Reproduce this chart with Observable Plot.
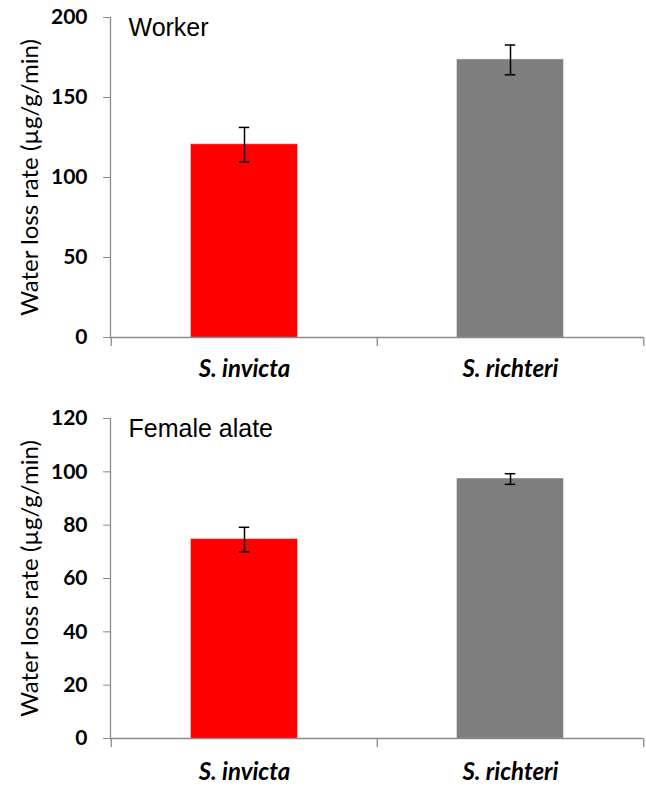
<!DOCTYPE html>
<html>
<head>
<meta charset="utf-8">
<script src="https://cdn.jsdelivr.net/npm/d3@7"></script>
<script src="https://cdn.jsdelivr.net/npm/@observablehq/plot@0.6"></script>
<style>
  body { margin: 0; background: #fff; }
  #chart svg { display: block; }
</style>
</head>
<body>
<div id="chart"></div>
<script>
const species = ["S. invicta", "S. richteri"];
const barColors = ["#ff0000", "#7f7f7f"];
const yLabel = "Water loss rate (µg/g/min)";

const workerTitle = "Worker";
const workerMean = [120.5, 173.5];
const workerErr = [10.8, 9.3];
const workerTicks = [0, 50, 100, 150, 200];

const alateTitle = "Female alate";
const alateMean = [74.6, 97.3];
const alateErr = [4.6, 2.0];
const alateTicks = [0, 20, 40, 60, 80, 100, 120];

const W = 646, ML = 110, MR = 3;
const step = (W - ML - MR) / species.length;
const axisGray = "#8c8c8c";

function panel(means, errs, ticks, title, height, mt, mb, labelPad) {
  const rows = species.map((s, i) => ({
    species: s, mean: means[i], lo: means[i] - errs[i], hi: means[i] + errs[i], color: barColors[i]
  }));
  const yMax = ticks[ticks.length - 1];
  return Plot.plot({
    width: W, height, marginLeft: ML, marginRight: MR, marginTop: mt, marginBottom: mb,
    style: {background: "#fff"},
    x: {domain: species, padding: 0, label: null},
    y: {domain: [0, yMax], label: null},
    marks: [
      Plot.barY(rows, {x: "species", y: "mean", fill: "color", stroke: "color", strokeOpacity: 0.6, insetLeft: 80, insetRight: 80}),
      Plot.ruleX(rows, {x: "species", y1: "lo", y2: "hi", stroke: "#000", strokeWidth: 1.5}),
      Plot.tickY(rows, {x: "species", y: "lo", stroke: "#000", strokeWidth: 1.5, insetLeft: (step - 11) / 2, insetRight: (step - 11) / 2}),
      Plot.tickY(rows, {x: "species", y: "hi", stroke: "#000", strokeWidth: 1.5, insetLeft: (step - 11) / 2, insetRight: (step - 11) / 2}),
      Plot.ruleY([0], {stroke: axisGray, strokeWidth: 1.3}),
      Plot.frame({anchor: "left", stroke: axisGray, strokeWidth: 1.3}),
      Plot.ruleX(species, {x: d => d, y1: 0, y2: 0, insetTop: 0, insetBottom: -9, dx: -step / 2, stroke: axisGray, strokeWidth: 1.3}),
      Plot.ruleX(species.slice(-1), {x: d => d, y1: 0, y2: 0, insetTop: 0, insetBottom: -9, dx: step / 2, stroke: axisGray, strokeWidth: 1.3}),
      Plot.axisY({ticks, tickSize: 7, tickPadding: 16, stroke: axisGray, fill: "#000",
        fontSize: 21, fontWeight: "bold", fontFamily: "Lato", label: null}),
      Plot.axisX({tickSize: 0, tickPadding: labelPad, fill: "#000", fontSize: 24, fontWeight: "bold",
        fontStyle: "italic", fontFamily: "Lato", label: null}),
      Plot.text([yLabel], {frameAnchor: "left", rotate: -90, dx: -80, textAnchor: "middle", lineAnchor: "middle",
        fontSize: 24, fontFamily: "Lato", fill: "#000"}),
      Plot.text([title], {frameAnchor: "top-left", dx: 18, dy: 1, textAnchor: "start", lineAnchor: "top",
        fontSize: 25, fontFamily: "Liberation Sans", fill: "#000"})
    ]
  });
}

const chart = document.getElementById("chart");
chart.append(panel(workerMean, workerErr, workerTicks, workerTitle, 393, 17, 56, 22));
chart.append(panel(alateMean, alateErr, alateTicks, alateTitle, 393, 25, 48, 24));
</script>
</body>
</html>
